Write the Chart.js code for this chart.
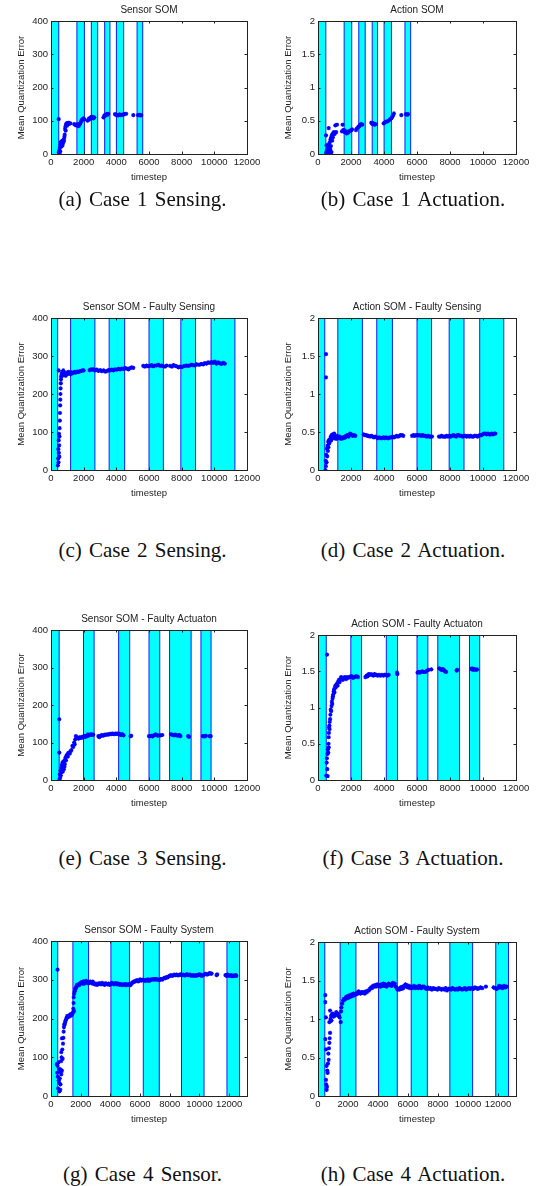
<!DOCTYPE html>
<html>
<head>
<meta charset="utf-8">
<script src="https://cdn.jsdelivr.net/npm/chart.js@4.4.0/dist/chart.umd.min.js"></script>
<style>
  html, body { margin: 0; padding: 0; background: #fff; width: 538px; height: 1186px; overflow: hidden; }
  canvas { position: absolute; }
  .cap { position: absolute; transform: translate(-50%, -50%); white-space: nowrap;
         font-family: "Liberation Serif", "Times New Roman", serif; font-size: 21px; color: #111; word-spacing: 2px; }
</style>
</head>
<body>
<canvas id="pa"></canvas><canvas id="pb"></canvas>
<canvas id="pc"></canvas><canvas id="pd"></canvas>
<canvas id="pe"></canvas><canvas id="pf"></canvas>
<canvas id="pg"></canvas><canvas id="ph"></canvas>
<div class="cap" style="left:142.5px;top:199px">(a) Case 1 Sensing.</div>
<div class="cap" style="left:413px;top:199px">(b) Case 1 Actuation.</div>
<div class="cap" style="left:142.5px;top:550px">(c) Case 2 Sensing.</div>
<div class="cap" style="left:413px;top:550px">(d) Case 2 Actuation.</div>
<div class="cap" style="left:142.5px;top:858px">(e) Case 3 Sensing.</div>
<div class="cap" style="left:413px;top:858px">(f) Case 3 Actuation.</div>
<div class="cap" style="left:142.5px;top:1174px">(g) Case 4 Sensor.</div>
<div class="cap" style="left:413px;top:1174px">(h) Case 4 Actuation.</div>
<script>
// ---- tick values ----
const timeTicks = [0, 2000, 4000, 6000, 8000, 10000, 12000];
const sensorTicks = [0, 100, 200, 300, 400];
const actionTicks = [0, 0.5, 1, 1.5, 2];

// ---- shaded intervals (timestep ranges) for each case ----
const case1Bands = [[0,475],[1585,2045],[2470,2860],[3285,3610],[4005,4450],[5270,5615]];
const case2Bands = [[0,410],[1200,2690],[3560,4510],[6000,6880],[7950,8850],[9800,11260]];
const case3Bands = [[0,500],[1990,2640],[4140,4820],[6000,6660],[7260,8580],[9180,9800]];
const case4Bands = [[0,455],[1475,2530],[4035,5285],[6215,7292],[8790,10308],[11850,12700]];

// ---- mean quantization error samples: [timestep, error] ----
const sensorCase1 = [[470,105],[480,5],[500,10],[520,2],[540,18],[560,8],[580,28],[600,35],[620,22],[640,38],[660,30],[680,36],[700,25],[720,40],[740,33],[760,42],[780,38],[800,45],[820,52],[840,58],[860,75],[880,82],[900,70],[920,88],[950,92],[980,85],[1010,93],[1040,90],[1080,94],[1120,91],[1180,92],[1420,90],[1480,88],[1530,86],[1590,87],[1640,90],[1690,84],[1740,88],[1790,92],[1840,98],[1890,102],[1940,105],[1990,107],[2040,104],[2240,100],[2290,103],[2330,107],[2380,105],[2420,110],[2470,108],[2520,112],[2560,109],[2600,107],[2650,110],[3210,110],[3260,114],[3300,117],[3350,116],[3400,120],[3450,118],[3500,121],[3920,120],[3980,118],[4050,116],[4130,117],[4200,119],[4270,117],[4350,118],[4430,119],[4500,120],[4600,121],[5040,117],[5330,117],[5400,118],[5470,116],[5520,117]];

const actionCase1 = [[485,0.28],[500,0.02],[520,0],[520,0.13],[540,0.05],[560,0.01],[580,0.08],[600,0.04],[620,0.12],[640,0.06],[650,0.39],[660,0.15],[680,0.03],[700,0.1],[720,0.18],[740,0.07],[760,0.22],[780,0.12],[800,0.25],[820,0.03],[840,0.28],[860,0.2],[880,0.3],[900,0.25],[930,0.31],[960,0.33],[1000,0.3],[1050,0.32],[1050,0.43],[1100,0.33],[1150,0.44],[1455,0.34],[1490,0.44],[1530,0.36],[1576,0.36],[1620,0.33],[1697,0.34],[1740,0.31],[1818,0.32],[1880,0.34],[1960,0.35],[2020,0.36],[2060,0.37],[2300,0.36],[2350,0.38],[2420,0.4],[2470,0.41],[2505,0.42],[2560,0.44],[2626,0.45],[2680,0.44],[3230,0.47],[3270,0.46],[3310,0.45],[3370,0.46],[3430,0.44],[3480,0.45],[3980,0.46],[4040,0.47],[4120,0.485],[4200,0.49],[4280,0.5],[4360,0.52],[4445,0.535],[4500,0.56],[4550,0.58],[4600,0.61],[5050,0.585],[5330,0.6],[5400,0.59],[5450,0.6]];

const sensorCase2 = [[420,12],[440,30],[450,55],[460,20],[470,78],[470,262],[480,45],[490,95],[500,65],[510,35],[520,88],[530,110],[540,130],[550,150],[560,170],[570,185],[580,200],[590,215],[600,228],[610,238],[620,245],[640,250],[660,255],[680,248],[700,258],[720,252],[750,262],[780,258],[800,255],[850,250],[900,248],[950,255],[1000,252],[1050,258],[1100,254],[1150,256],[1200,252],[1260,257],[1320,255],[1380,256],[1450,258],[1520,256],[1600,259],[1690,258],[1780,260],[1860,261],[1940,262],[2000,262],[2360,263],[2450,265],[2530,264],[2600,265],[2700,262],[2800,264],[2900,261],[3010,263],[3110,260],[3220,262],[3320,259],[3420,260],[3520,263],[3620,262],[3720,264],[3820,262],[3920,265],[4030,264],[4130,266],[4230,265],[4340,267],[4440,266],[4540,268],[4640,267],[4740,265],[4840,268],[4940,270],[5040,269],[5650,274],[5750,272],[5850,275],[5960,273],[6060,274],[6160,276],[6260,273],[6370,275],[6470,275],[6570,277],[6680,274],[6780,275],[6880,273],[6980,272],[7080,275],[7290,274],[7400,272],[7500,276],[7600,274],[7700,273],[7800,270],[7900,272],[8000,271],[8100,273],[8200,274],[8300,275],[8400,274],[8500,275],[8600,277],[8700,276],[8810,275],[8910,278],[9010,277],[9110,277],[9210,279],[9320,278],[9420,281],[9520,280],[9620,283],[9720,282],[9830,284],[9930,282],[10030,285],[10130,280],[10230,283],[10330,281],[10430,279],[10540,282],[10640,280]];

const actionCase2 = [[485,1.525],[485,1.22],[450,0.0],[470,0.12],[480,0.05],[500,0.2],[520,0.1],[540,0.28],[560,0.18],[580,0.32],[600,0.25],[620,0.37],[640,0.3],[660,0.39],[680,0.35],[700,0.4],[720,0.38],[750,0.41],[780,0.44],[800,0.39],[830,0.46],[860,0.42],[890,0.47],[920,0.43],[950,0.45],[980,0.48],[1010,0.42],[1050,0.44],[1100,0.41],[1150,0.45],[1200,0.43],[1250,0.42],[1300,0.44],[1350,0.43],[1400,0.41],[1455,0.42],[1510,0.43],[1555,0.42],[1610,0.44],[1660,0.43],[1720,0.45],[1780,0.46],[1860,0.44],[1940,0.48],[2020,0.47],[2100,0.45],[2180,0.46],[2260,0.45],[2770,0.47],[2840,0.46],[2920,0.46],[3000,0.45],[3070,0.45],[3150,0.44],[3230,0.45],[3310,0.44],[3390,0.43],[3470,0.44],[3550,0.43],[3630,0.42],[3710,0.43],[3800,0.42],[3880,0.42],[3960,0.43],[4040,0.42],[4120,0.43],[4200,0.42],[4280,0.42],[4360,0.43],[4440,0.43],[4520,0.44],[4600,0.43],[4690,0.44],[4770,0.45],[4850,0.44],[4930,0.45],[5010,0.46],[5090,0.46],[5170,0.45],[5700,0.45],[5780,0.46],[5860,0.45],[5940,0.46],[6020,0.46],[6100,0.455],[6180,0.46],[6260,0.45],[6340,0.46],[6420,0.45],[6505,0.45],[6590,0.44],[6670,0.45],[6750,0.44],[6830,0.44],[6910,0.44],[7330,0.44],[7410,0.44],[7490,0.45],[7570,0.44],[7650,0.44],[7720,0.44],[7800,0.45],[7880,0.44],[7960,0.45],[8040,0.44],[8120,0.45],[8200,0.46],[8290,0.45],[8370,0.44],[8450,0.46],[8525,0.46],[8600,0.45],[8690,0.45],[8770,0.44],[8850,0.45],[8930,0.45],[9010,0.44],[9090,0.45],[9170,0.44],[9250,0.45],[9330,0.44],[9410,0.44],[9490,0.45],[9580,0.45],[9660,0.44],[9740,0.45],[9820,0.46],[9900,0.46],[9980,0.47],[10060,0.48],[10140,0.48],[10220,0.47],[10300,0.48],[10380,0.47],[10450,0.47],[10530,0.48],[10600,0.47],[10680,0.48],[10750,0.48]];

const sensorCase3 = [[508,162],[508,73],[520,2],[540,15],[560,6],[580,25],[600,12],[620,32],[635,20],[660,40],[677,33],[700,46],[720,22],[740,38],[760,50],[783,28],[800,45],[820,35],[847,42],[870,55],[890,60],[920,52],[950,65],[995,68],[1030,62],[1060,72],[1100,73],[1150,70],[1206,77],[1250,80],[1312,91],[1360,88],[1418,100],[1450,95],[1480,108],[1524,117],[1570,112],[1630,113],[1680,110],[1740,114],[1790,112],[1840,113],[1900,115],[1950,113],[2000,116],[2053,117],[2110,115],[2160,118],[2210,117],[2265,122],[2320,119],[2370,120],[2420,121],[2476,122],[2530,120],[2580,121],[2900,117],[2950,114],[3000,116],[3050,118],[3110,120],[3170,118],[3230,119],[3300,121],[3360,120],[3430,122],[3500,121],[3560,122],[3620,123],[3690,122],[3746,124],[3800,123],[3870,122],[3940,124],[4000,123],[4063,124],[4130,122],[4200,123],[4250,120],[4320,121],[4380,122],[4440,119],[4870,117],[4910,118],[6000,117],[6074,117],[6150,118],[6220,116],[6300,119],[6390,122],[6450,120],[6520,118],[6600,119],[6700,119],[6815,120],[7344,122],[7400,121],[7470,120],[7530,119],[7600,121],[7660,120],[7730,118],[7800,119],[7870,120],[7920,117],[8400,117],[8450,115],[9300,117],[9355,117],[9420,116],[9480,118],[9700,117],[9778,117]];

const actionCase3 = [[545,1.73],[500,0.06],[524,0.24],[540,0.3],[560,0.15],[586,0.055],[586,0.36],[600,0.42],[620,0.38],[640,0.5],[650,0.45],[650,0.59],[660,0.65],[670,0.72],[690,0.75],[700,0.7],[710,0.8],[733,0.84],[750,0.9],[770,0.97],[796,0.95],[820,1.02],[840,1.08],[860,1.05],[880,1.12],[900,1.15],[920,1.18],[950,1.22],[980,1.25],[1000,1.21],[1020,1.27],[1050,1.3],[1080,1.28],[1110,1.31],[1150,1.33],[1190,1.3],[1230,1.36],[1270,1.38],[1310,1.35],[1350,1.39],[1400,1.42],[1455,1.41],[1500,1.38],[1560,1.4],[1620,1.42],[1700,1.39],[1760,1.42],[1820,1.41],[1900,1.42],[1980,1.43],[2060,1.43],[2120,1.41],[2200,1.42],[2280,1.43],[2365,1.43],[2420,1.42],[2870,1.42],[2940,1.44],[3000,1.43],[3070,1.46],[3140,1.45],[3210,1.46],[3280,1.45],[3350,1.44],[3420,1.46],[3475,1.45],[3550,1.45],[3620,1.44],[3700,1.45],[3780,1.44],[3880,1.45],[3960,1.44],[4040,1.45],[4120,1.45],[4200,1.44],[4280,1.45],[4790,1.48],[4810,1.46],[6030,1.48],[6100,1.49],[6170,1.48],[6240,1.49],[6320,1.5],[6400,1.49],[6505,1.49],[6600,1.51],[6700,1.52],[6870,1.525],[7350,1.54],[7420,1.53],[7490,1.52],[7560,1.53],[7620,1.52],[7680,1.5],[7720,1.5],[7760,1.49],[8400,1.51],[8430,1.52],[9300,1.53],[9330,1.54],[9400,1.52],[9480,1.53],[9570,1.52],[9640,1.525]];

const sensorCase4 = [[443,326],[392,82],[420,60],[440,78],[460,50],[480,20],[508,87],[520,40],[540,70],[554,34],[570,12],[590,45],[610,62],[623,16],[640,30],[660,68],[680,90],[692,56],[692,113],[710,100],[738,65],[738,149],[760,120],[785,96],[808,135],[830,150],[854,166],[870,178],[890,185],[923,184],[950,190],[980,195],[1015,197],[1050,202],[1085,206],[1120,203],[1160,207],[1200,205],[1240,208],[1280,206],[1315,211],[1360,209],[1400,210],[1431,212],[1480,216],[1500,225],[1520,240],[1530,255],[1546,219],[1560,264],[1600,270],[1630,277],[1662,277],[1700,282],[1750,287],[1800,285],[1850,288],[1892,286],[1950,290],[2000,292],[2060,294],[2120,290],[2180,296],[2239,290],[2300,293],[2360,297],[2420,293],[2480,291],[2540,294],[2585,292],[2650,295],[2720,293],[2780,290],[2816,295],[2880,291],[2950,288],[3020,290],[3090,287],[3162,288],[3230,291],[3300,290],[3370,288],[3440,292],[3520,289],[3600,287],[3680,291],[3725,289],[3800,288],[3880,290],[3950,287],[4030,289],[4100,292],[4180,290],[4250,288],[4330,291],[4390,291],[4460,288],[4540,290],[4620,287],[4700,289],[4780,286],[4850,288],[4920,287],[5000,289],[5055,286],[5130,288],[5200,287],[5280,289],[5350,286],[5390,289],[5460,292],[5530,294],[5600,296],[5650,295],[5720,297],[5800,299],[5870,296],[5940,298],[6000,301],[6080,298],[6164,300],[6250,299],[6330,297],[6400,300],[6480,298],[6540,301],[6607,297],[6680,299],[6750,301],[6820,300],[6900,302],[6980,300],[7050,302],[7130,300],[7200,301],[7280,299],[7360,300],[7420,302],[7494,300],[7570,303],[7640,305],[7710,304],[7780,307],[7860,306],[7938,309],[8000,310],[8080,312],[8150,310],[8230,311],[8300,313],[8381,312],[8460,313],[8540,311],[8620,312],[8700,314],[8760,313],[8825,312],[8900,313],[8980,311],[9050,312],[9130,314],[9200,313],[9268,312],[9350,313],[9420,311],[9500,310],[9580,312],[9650,311],[9712,310],[9790,312],[9870,311],[9950,313],[10020,314],[10090,312],[10155,310],[10250,312],[10330,314],[10420,315],[10510,313],[10600,315],[10690,317],[10760,316],[10820,316],[11150,312],[11190,314],[11750,312],[11820,310],[11890,313],[11960,311],[12040,310],[12120,312],[12200,309],[12280,311],[12360,310],[12440,312],[12480,310]];

const actionCase4 = [[482,1.31],[482,1.22],[528,1.02],[482,0.74],[528,0.605],[573,0.39],[528,0.21],[573,0.08],[550,0.15],[600,0.12],[620,0.33],[642,0.3],[660,0.42],[690,0.55],[711,0.47],[730,0.62],[757,0.69],[780,0.75],[803,0.82],[757,0.96],[803,1.11],[830,1.0],[872,1.04],[900,0.98],[940,1.06],[986,1.07],[1040,1.03],[1100,1.04],[1160,1.06],[1216,1.09],[1270,1.05],[1330,1.07],[1390,1.04],[1445,1.02],[1514,0.96],[1540,1.1],[1560,1.15],[1610,1.2],[1674,1.24],[1730,1.26],[1790,1.25],[1850,1.28],[1904,1.29],[1960,1.27],[2020,1.3],[2080,1.28],[2133,1.31],[2190,1.29],[2250,1.32],[2310,1.3],[2362,1.33],[2420,1.31],[2480,1.33],[2540,1.32],[2600,1.34],[2650,1.33],[2706,1.36],[2770,1.34],[2840,1.33],[2900,1.35],[2980,1.34],[3050,1.35],[3120,1.33],[3190,1.36],[3260,1.35],[3330,1.37],[3394,1.37],[3460,1.39],[3530,1.41],[3600,1.4],[3670,1.43],[3739,1.42],[3800,1.44],[3870,1.42],[3940,1.45],[4010,1.43],[4083,1.44],[4150,1.42],[4220,1.45],[4290,1.43],[4360,1.46],[4427,1.43],[4500,1.45],[4570,1.42],[4640,1.44],[4710,1.46],[4771,1.44],[4840,1.45],[4910,1.43],[4980,1.47],[5050,1.45],[5115,1.46],[5180,1.42],[5250,1.4],[5300,1.38],[5344,1.39],[5420,1.38],[5500,1.41],[5580,1.39],[5640,1.42],[5688,1.4],[5760,1.43],[5830,1.45],[5880,1.42],[5917,1.44],[5990,1.41],[6060,1.43],[6130,1.4],[6200,1.42],[6261,1.4],[6330,1.41],[6400,1.43],[6470,1.4],[6540,1.41],[6605,1.42],[6680,1.4],[6750,1.43],[6820,1.41],[6890,1.4],[6960,1.42],[7064,1.42],[7150,1.4],[7230,1.39],[7320,1.41],[7408,1.39],[7500,1.4],[7590,1.38],[7680,1.4],[7780,1.39],[7867,1.39],[7960,1.38],[8050,1.4],[8140,1.39],[8230,1.38],[8326,1.39],[8420,1.38],[8510,1.4],[8600,1.37],[8700,1.39],[8784,1.39],[8870,1.38],[8960,1.4],[9050,1.39],[9140,1.38],[9243,1.39],[9330,1.38],[9420,1.4],[9520,1.39],[9610,1.38],[9702,1.39],[9790,1.4],[9880,1.38],[9970,1.39],[10070,1.4],[10161,1.39],[10260,1.4],[10360,1.39],[10460,1.41],[10560,1.4],[10650,1.39],[10734,1.4],[10840,1.41],[10950,1.4],[11193,1.42],[11700,1.41],[11800,1.4],[11900,1.39],[11995,1.4],[12080,1.43],[12160,1.41],[12225,1.42],[12310,1.4],[12400,1.43],[12490,1.41],[12569,1.42]];

// ---- panel titles ----
const panelTitles = [
  'Sensor SOM', 'Action SOM',
  'Sensor SOM - Faulty Sensing', 'Action SOM - Faulty Sensing',
  'Sensor SOM - Faulty Actuaton', 'Action SOM - Faulty Actuaton',
  'Sensor SOM - Faulty System', 'Action SOM - Faulty System'
];

// ---- plot-area rectangles on the page (left, top, right, bottom) ----
const plotBoxes = [
  [51, 21, 247, 154], [318, 21, 516, 154],
  [51, 318, 247, 470], [318, 318, 516, 470],
  [51, 630, 247, 780], [318, 635, 516, 780],
  [51, 941, 247, 1096], [318, 942, 516, 1096]
];

const FONT = '"Liberation Sans", Arial, Helvetica, sans-serif';
const INK = '#222';

// shaded timestep intervals with blue edges
const bandPlugin = {
  id: 'bands',
  beforeDatasetsDraw(chart, args, opts) {
    const { ctx, chartArea: { left, top, right, bottom }, scales: { x } } = chart;
    ctx.save();
    ctx.beginPath();
    ctx.rect(left, top, right - left, bottom - top);
    ctx.clip();
    for (const [a, b] of opts.list) {
      const xa = x.getPixelForValue(a), xb = x.getPixelForValue(b);
      ctx.fillStyle = '#00ffff';
      ctx.fillRect(xa, top, xb - xa, bottom - top);
      ctx.strokeStyle = '#1a1aff';
      ctx.lineWidth = 1;
      ctx.beginPath();
      if (a > x.min) { ctx.moveTo(xa, top); ctx.lineTo(xa, bottom); }
      ctx.moveTo(xb, top); ctx.lineTo(xb, bottom);
      ctx.stroke();
    }
    ctx.restore();
  }
};

// boxed axes with short inward tick marks on all four sides
const framePlugin = {
  id: 'frame',
  afterDatasetsDraw(chart) {
    const { ctx, chartArea: { left, top, right, bottom }, scales: { x, y } } = chart;
    const len = 2.5;
    ctx.save();
    ctx.strokeStyle = INK;
    ctx.lineWidth = 1;
    ctx.beginPath();
    for (const t of x.ticks) {
      const px = Math.round(x.getPixelForValue(t.value)) + 0.5;
      ctx.moveTo(px, bottom); ctx.lineTo(px, bottom - len);
      ctx.moveTo(px, top); ctx.lineTo(px, top + len);
    }
    for (const t of y.ticks) {
      const py = Math.round(y.getPixelForValue(t.value)) + 0.5;
      ctx.moveTo(left, py); ctx.lineTo(left + len, py);
      ctx.moveTo(right, py); ctx.lineTo(right - len, py);
    }
    ctx.stroke();
    ctx.strokeRect(Math.round(left) + 0.5, Math.round(top) + 0.5,
                   Math.round(right - left), Math.round(bottom - top));
    ctx.restore();
  }
};

const panels = [
  { id: 'pa', series: sensorCase1, bands: case1Bands, yTicks: sensorTicks, yMax: 400, xMax: 12000 },
  { id: 'pb', series: actionCase1, bands: case1Bands, yTicks: actionTicks, yMax: 2,   xMax: 12000 },
  { id: 'pc', series: sensorCase2, bands: case2Bands, yTicks: sensorTicks, yMax: 400, xMax: 12000 },
  { id: 'pd', series: actionCase2, bands: case2Bands, yTicks: actionTicks, yMax: 2,   xMax: 12000 },
  { id: 'pe', series: sensorCase3, bands: case3Bands, yTicks: sensorTicks, yMax: 400, xMax: 12000 },
  { id: 'pf', series: actionCase3, bands: case3Bands, yTicks: actionTicks, yMax: 2,   xMax: 12000 },
  { id: 'pg', series: sensorCase4, bands: case4Bands, yTicks: sensorTicks, yMax: 400, xMax: 13200 },
  { id: 'ph', series: actionCase4, bands: case4Bands, yTicks: actionTicks, yMax: 2,   xMax: 13200 }
];

const PAD_L = 50, PAD_T = 22, PAD_R = 18, PAD_B = 34;

panels.forEach((p, i) => {
  const [l, t, r, b] = plotBoxes[i];
  const cv = document.getElementById(p.id);
  const w = (r - l) + PAD_L + PAD_R, h = (b - t) + PAD_T + PAD_B;
  cv.width = w; cv.height = h;
  cv.style.width = w + 'px'; cv.style.height = h + 'px';
  cv.style.left = (l - PAD_L) + 'px'; cv.style.top = (t - PAD_T) + 'px';

  new Chart(cv, {
    type: 'scatter',
    data: {
      datasets: [{
        data: p.series.map(([tt, e]) => ({ x: tt, y: e })),
        pointStyle: 'star',
        pointRadius: 2.1,
        pointBorderWidth: 1.1,
        borderColor: '#0000ff',
        backgroundColor: '#0000ff',
        showLine: false
      }]
    },
    options: {
      responsive: false,
      animation: false,
      devicePixelRatio: 1,
      events: [],
      layout: { padding: { left: 0, top: 0, right: PAD_R, bottom: 0 } },
      plugins: {
        legend: { display: false },
        tooltip: { enabled: false },
        title: {
          display: true, text: panelTitles[i], fullSize: false,
          font: { family: FONT, size: 10, weight: 'normal' }, color: INK,
          padding: { top: 4.8, bottom: 5.2 }
        },
        bands: { list: p.bands }
      },
      scales: {
        x: {
          type: 'linear', min: 0, max: p.xMax,
          afterBuildTicks: s => { s.ticks = timeTicks.map(v => ({ value: v })); },
          afterFit: s => { s.height = PAD_B; s.paddingLeft = 0; s.paddingRight = 0; },
          grid: { display: false, drawTicks: false, tickLength: 0 }, border: { display: false },
          ticks: { autoSkip: false, maxRotation: 0, padding: 3, color: INK,
                   font: { family: FONT, size: 9.5 }, callback: v => String(v) },
          title: { display: true, text: 'timestep', color: INK,
                   font: { family: FONT, size: 9.5 }, padding: { top: 0, bottom: 5.3 } }
        },
        y: {
          type: 'linear', min: 0, max: p.yMax,
          afterBuildTicks: s => { s.ticks = p.yTicks.map(v => ({ value: v })); },
          afterFit: s => { s.width = PAD_L; s.paddingTop = 0; s.paddingBottom = 0; },
          grid: { display: false, drawTicks: false, tickLength: 0 }, border: { display: false },
          ticks: { padding: 3, color: INK, font: { family: FONT, size: 9.5 }, callback: v => String(v) },
          title: { display: true, text: 'Mean Quantization Error', color: INK,
                   font: { family: FONT, size: 9.5 }, padding: { top: 14.3, bottom: 0 } }
        }
      }
    },
    plugins: [bandPlugin, framePlugin]
  });
});
</script>
</body>
</html>
